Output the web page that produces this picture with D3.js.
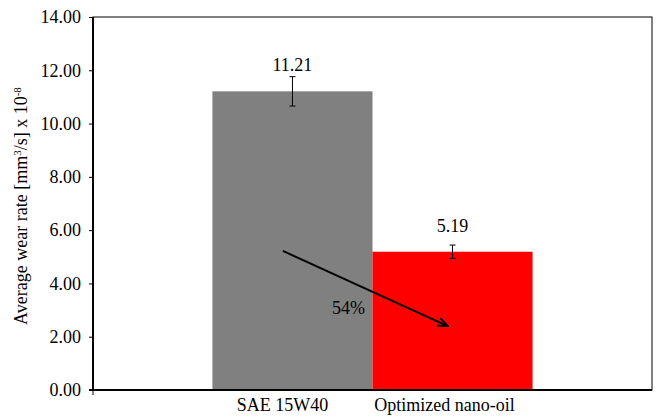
<!DOCTYPE html>
<html>
<head>
<meta charset="utf-8">
<script src="https://cdn.jsdelivr.net/npm/d3@7"></script>
<style>
  html, body { margin: 0; padding: 0; background: #fff; }
  .serif { font-family: 'Liberation Serif', serif; font-size: 18px; }
</style>
</head>
<body>
<svg id="chart" width="656" height="417"></svg>
<script>
// ── Data ──
const categories = ['Wear'];
const seriesNames = ['SAE 15W40', 'Optimized nano-oil'];
const seriesValues = [11.21, 5.19];
const seriesErrors = [0.55, 0.25];
const seriesColors = ['#808080', '#ff0000'];
const yTicks = [0, 2, 4, 6, 8, 10, 12, 14];
const reductionLabel = '54%';
// arrow endpoints in data units: [position across the two bars (0..2), value]
const arrowFrom = [0.44, 5.22];
const arrowTo = [1.47, 2.4];

const W = 656, H = 417;
const M = { top: 17, right: 4, bottom: 27, left: 93 };

const svg = d3.select('#chart');
const innerW = W - M.left - M.right;
const innerH = H - M.top - M.bottom;

const x0 = d3.scaleBand().domain(categories).range([0, innerW]).paddingInner(0).paddingOuter(0.373);
const x1 = d3.scaleBand().domain(seriesNames).range([0, x0.bandwidth()]).padding(0);
const y = d3.scaleLinear().domain([0, 14]).range([innerH, 0]);

// position across the pair of bars, 0 = left edge of first bar, 2 = right edge of last
const xPair = d3.scaleLinear().domain([0, 2])
  .range([x0(categories[0]), x0(categories[0]) + x0.bandwidth()]);

const g = svg.append('g').attr('transform', `translate(${M.left},${M.top})`);

function txt(sel) {
  return sel.attr('class', 'serif').attr('font-family', 'Liberation Serif').attr('fill', '#000');
}

// frame (top and right thin)
g.append('rect')
  .attr('x', 0).attr('y', 0).attr('width', innerW).attr('height', innerH)
  .attr('fill', 'none').attr('stroke', '#000').attr('stroke-width', 1);

// bars
const bars = seriesNames.map((s, i) => ({ name: s, value: seriesValues[i], err: seriesErrors[i], color: seriesColors[i] }));

g.selectAll('.bar')
  .data(bars)
  .join('rect')
  .attr('class', 'bar')
  .attr('x', (d) => x0(categories[0]) + x1(d.name))
  .attr('y', (d) => y(d.value))
  .attr('width', x1.bandwidth())
  .attr('height', (d) => innerH - y(d.value))
  .attr('fill', (d) => d.color);

// error bars
const eg = g.selectAll('.err').data(bars).join('g').attr('class', 'err')
  .attr('transform', (d) => `translate(${x0(categories[0]) + x1(d.name) + x1.bandwidth() / 2},0)`);
eg.append('line').attr('x1', 0).attr('x2', 0)
  .attr('y1', (d) => y(d.value + d.err)).attr('y2', (d) => y(d.value - d.err))
  .attr('stroke', '#000').attr('stroke-width', 1);
eg.append('line').attr('x1', -3).attr('x2', 3)
  .attr('y1', (d) => y(d.value + d.err)).attr('y2', (d) => y(d.value + d.err))
  .attr('stroke', '#000').attr('stroke-width', 1);
eg.append('line').attr('x1', -3).attr('x2', 3)
  .attr('y1', (d) => y(d.value - d.err)).attr('y2', (d) => y(d.value - d.err))
  .attr('stroke', '#000').attr('stroke-width', 1);

// value labels
eg.append('text')
  .attr('x', 0)
  .attr('y', (d) => y(d.value) - 20)
  .attr('text-anchor', 'middle')
  .call(txt)
  .text((d) => d.value.toFixed(2));

// y axis
const yAxis = g.append('g')
  .call(d3.axisLeft(y).tickValues(yTicks).tickSize(4).tickPadding(8).tickFormat(d3.format('.2f')));
yAxis.attr('font-family', 'Liberation Serif').attr('font-size', 18);
yAxis.select('.domain').remove();
yAxis.selectAll('line').attr('stroke', '#000');
yAxis.selectAll('text').call(txt);
g.append('line').attr('x1', 0).attr('x2', 0).attr('y1', 0).attr('y2', innerH + 1)
  .attr('stroke', '#000').attr('stroke-width', 2);

// x axis
g.append('line').attr('x1', -4).attr('x2', innerW).attr('y1', innerH).attr('y2', innerH)
  .attr('stroke', '#000').attr('stroke-width', 2);
g.append('line').attr('x1', 0).attr('x2', 0).attr('y1', innerH).attr('y2', innerH + 5)
  .attr('stroke', '#000').attr('stroke-width', 1);

// series labels under bars
g.selectAll('.xlab').data(bars).join('text')
  .attr('x', (d, i) => x0(categories[0]) + x1(d.name) + x1.bandwidth() / 2 + (i === 0 ? -10 : -8))
  .attr('y', innerH + 21)
  .attr('text-anchor', 'middle')
  .call(txt)
  .text((d) => d.name);

// arrow annotation
const defs = svg.append('defs');
defs.append('marker')
  .attr('id', 'arrowhead').attr('viewBox', '0 0 12 10')
  .attr('refX', 11).attr('refY', 5)
  .attr('markerWidth', 12).attr('markerHeight', 10)
  .attr('markerUnits', 'userSpaceOnUse')
  .attr('orient', 'auto')
  .append('path').attr('d', 'M1,1 L11,5 L1,9').attr('fill', 'none')
  .attr('stroke', '#000').attr('stroke-width', 2);

g.append('line')
  .attr('x1', xPair(arrowFrom[0])).attr('y1', y(arrowFrom[1]))
  .attr('x2', xPair(arrowTo[0])).attr('y2', y(arrowTo[1]))
  .attr('stroke', '#000').attr('stroke-width', 2)
  .attr('marker-end', 'url(#arrowhead)');

g.append('text')
  .attr('x', xPair(0.85)).attr('y', y(2.85))
  .attr('text-anchor', 'middle')
  .call(txt)
  .text(reductionLabel);

// y axis title
const yt = svg.append('text')
  .attr('transform', `translate(27,206) rotate(-90)`)
  .attr('text-anchor', 'middle')
  .call(txt);
yt.append('tspan').text('Average wear rate [mm');
yt.append('tspan').attr('baseline-shift', 'super').style('font-size', '11px').text('3');
yt.append('tspan').text('/s]  x 10');
yt.append('tspan').attr('baseline-shift', 'super').style('font-size', '11px').text('-8');
</script>
</body>
</html>
